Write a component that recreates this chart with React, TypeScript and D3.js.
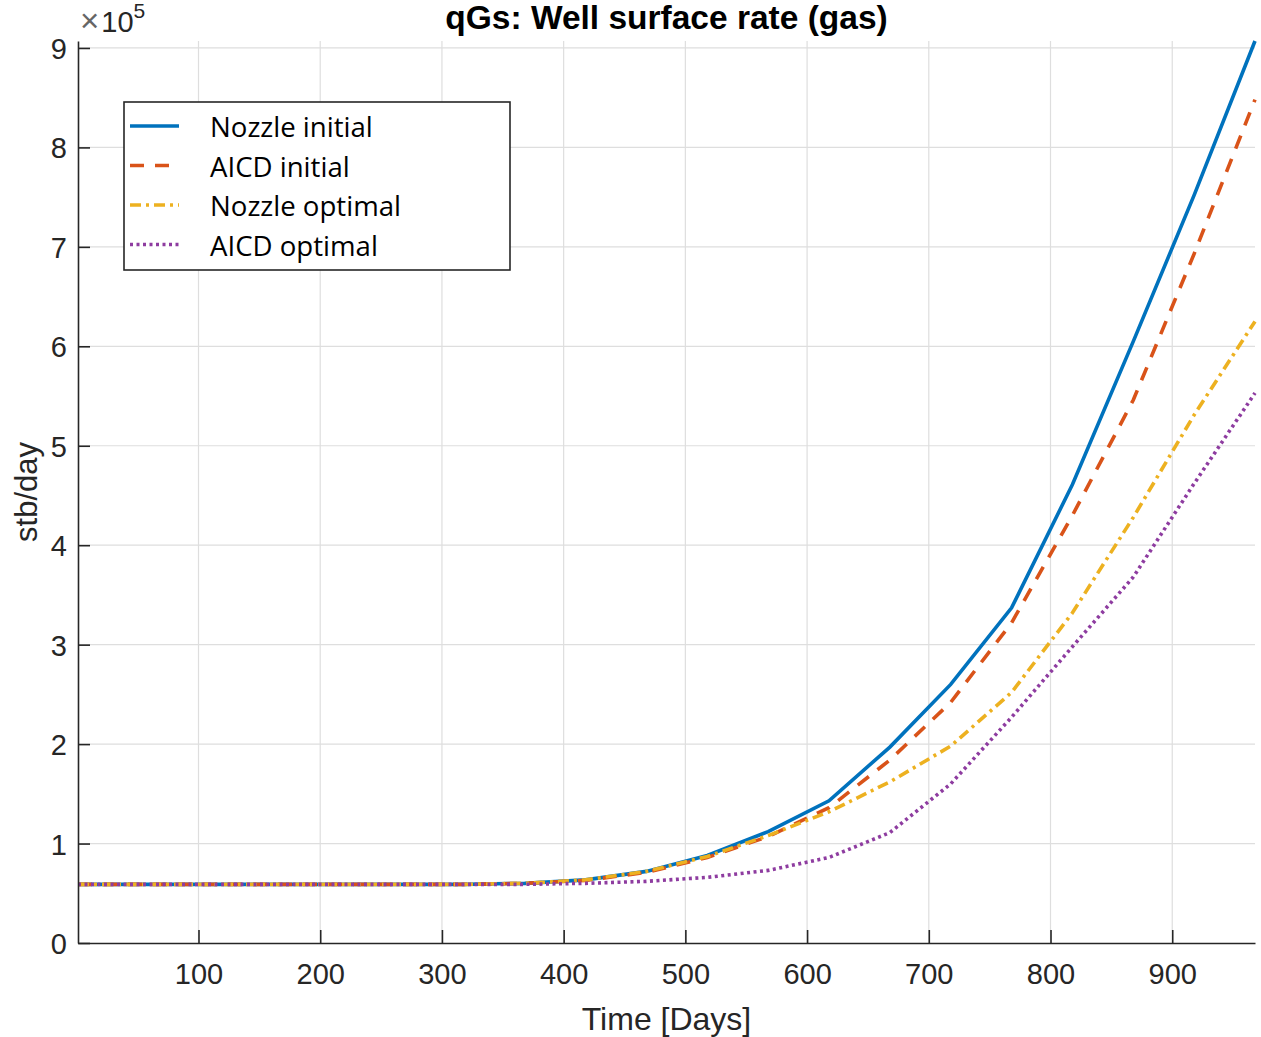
import {useEffect, useRef} from "react";
import * as d3 from "d3";

// values in units of 1e5 stb/day
const days = [1, 68, 118, 168, 218, 268, 318, 368, 418, 468, 518, 568, 618, 668, 718, 768, 818, 868, 918, 968];
const nozzleInitial = [0.59, 0.59, 0.59, 0.59, 0.59, 0.59, 0.59, 0.60, 0.635, 0.72, 0.88, 1.12, 1.43, 1.97, 2.60, 3.37, 4.61, 6.05, 7.52, 9.07];
const aicdInitial = [0.59, 0.59, 0.59, 0.59, 0.59, 0.59, 0.59, 0.60, 0.63, 0.71, 0.86, 1.07, 1.36, 1.84, 2.42, 3.22, 4.30, 5.46, 6.93, 8.48];
const nozzleOptimal = [0.59, 0.59, 0.59, 0.59, 0.59, 0.59, 0.59, 0.60, 0.635, 0.72, 0.87, 1.08, 1.32, 1.62, 1.98, 2.52, 3.32, 4.28, 5.31, 6.25];
const aicdOptimal = [0.59, 0.59, 0.59, 0.59, 0.59, 0.59, 0.59, 0.59, 0.60, 0.62, 0.66, 0.73, 0.86, 1.11, 1.60, 2.27, 2.98, 3.68, 4.62, 5.53];

const seriesNames = ["Nozzle initial", "AICD initial", "Nozzle optimal", "AICD optimal"];
const xTicks = [100, 200, 300, 400, 500, 600, 700, 800, 900];
const yTicks = [0, 1, 2, 3, 4, 5, 6, 7, 8, 9];

const styles = [
    {color: "#0072BD", dash: null},
    {color: "#D95319", dash: "14 11"},
    {color: "#EDB120", dash: "11 5 3 5"},
    {color: "#8E3CA0", dash: "3 3.5"},
];

function App() {
    const ref = useRef<SVGSVGElement>(null);

    useEffect(() => {
        document.body.style.margin = "0";
        const W = 1261, H = 1037;
        const margin = {top: 41, right: 6, bottom: 94, left: 78};
        const width = W - margin.left - margin.right;
        const height = H - margin.top - margin.bottom;
        const axisColor = "#262626";
        const font = "'Liberation Sans', Arial, sans-serif";

        const root = d3.select(ref.current);
        root.selectAll("*").remove();
        const svg = root.append("g")
            .attr("transform", `translate(${margin.left},${margin.top})`);

        const allSeries = [nozzleInitial, aicdInitial, nozzleOptimal, aicdOptimal];

        let x = d3.scaleLinear().domain([d3.min(days), d3.max(days)]).range([0, width]);
        let y = d3.scaleLinear().domain([0, d3.max(allSeries.flat())]).range([height, 0]);

        // grid
        svg.append("g").selectAll("line").data(xTicks).enter().append("line")
            .attr("x1", d => x(d)).attr("x2", d => x(d))
            .attr("y1", 0).attr("y2", height)
            .attr("stroke", "#dedede").attr("stroke-width", 1.2);
        svg.append("g").selectAll("line").data(yTicks.filter(t => t > 0)).enter().append("line")
            .attr("x1", 0).attr("x2", width)
            .attr("y1", d => y(d)).attr("y2", d => y(d))
            .attr("stroke", "#dedede").attr("stroke-width", 1.2);

        // lines
        const line = d3.line<number>()
            .x((d, i) => x(days[i]))
            .y(d => y(d));

        allSeries.forEach((s, k) => {
            svg.append("path")
                .datum(s)
                .attr("fill", "none")
                .attr("stroke", styles[k].color)
                .attr("stroke-width", 3.6)
                .attr("stroke-dasharray", styles[k].dash)
                .attr("d", line);
        });

        // axes
        const xAxis = svg.append("g")
            .attr("transform", `translate(0,${height})`)
            .call(d3.axisBottom(x).tickValues(xTicks).tickSizeInner(-13).tickSizeOuter(0).tickPadding(22));
        const yAxis = svg.append("g")
            .call(d3.axisLeft(y).tickValues(yTicks).tickSizeInner(-12).tickSizeOuter(0).tickPadding(22));

        [xAxis, yAxis].forEach(a => {
            a.select(".domain").attr("stroke", axisColor).attr("stroke-width", 1.6);
            a.selectAll(".tick line").attr("stroke", axisColor).attr("stroke-width", 1.6);
            a.selectAll(".tick text").attr("fill", axisColor)
                .style("font-family", font).style("font-size", "29px");
        });
        xAxis.selectAll(".tick text").attr("dy", "0.71em").attr("y", 20);
        yAxis.selectAll(".tick text").attr("x", -11).attr("dy", "0.36em");

        // exponent label
        const expo = svg.append("text")
            .attr("x", 2).attr("y", -9)
            .attr("fill", axisColor)
            .style("font-family", font).style("font-size", "29px");
        expo.append("tspan").attr("fill", "#666").style("font-size", "33px").text("\u00d7");
        expo.append("tspan").attr("dx", 2).text("10");
        expo.append("tspan").attr("dy", -14).style("font-size", "21px").text("5");

        // titles
        svg.append("text")
            .attr("x", width / 2).attr("y", -12)
            .attr("text-anchor", "middle")
            .style("font-family", font).style("font-size", "33.5px").style("font-weight", "bold")
            .attr("fill", "#000")
            .text("qGs: Well surface rate (gas)");

        svg.append("text")
            .attr("x", width / 2).attr("y", height + 87)
            .attr("text-anchor", "middle")
            .attr("fill", axisColor)
            .style("font-family", font).style("font-size", "32px")
            .text("Time [Days]");

        svg.append("text")
            .attr("transform", "rotate(-90)")
            .attr("x", -height / 2).attr("y", -41)
            .attr("text-anchor", "middle")
            .attr("fill", axisColor)
            .style("font-family", font).style("font-size", "31px")
            .text("stb/day");

        // legend
        const lg = root.append("g").attr("transform", "translate(124,102)");
        lg.append("rect")
            .attr("width", 386).attr("height", 168)
            .attr("fill", "#fff").attr("stroke", "#262626").attr("stroke-width", 1.6);
        seriesNames.forEach((name, k) => {
            const cy = 24 + k * 39.5;
            lg.append("line")
                .attr("x1", 6).attr("x2", 55).attr("y1", cy).attr("y2", cy)
                .attr("stroke", styles[k].color).attr("stroke-width", 3.6)
                .attr("stroke-dasharray", styles[k].dash);
            lg.append("text")
                .attr("x", 86).attr("y", cy + 11)
                .attr("fill", "#000")
                .style("font-family", "'Open Sans', sans-serif").style("font-size", "27.6px")
                .text(name);
        });

        return () => {
            root.selectAll("*").remove();
        };
    }, []);

    return <svg ref={ref} width={1261} height={1037} style={{display: "block", background: "#fff"}}></svg>;
}

export default App;
